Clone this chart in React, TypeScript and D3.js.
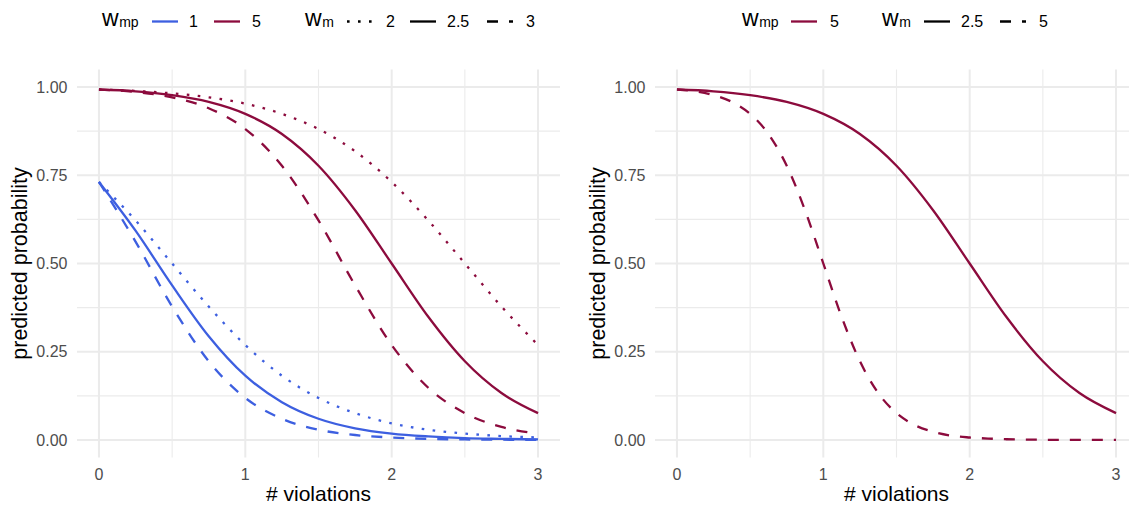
import React from 'react';
import * as d3 from 'd3';

// x positions (# violations) at which the curves were read
const violations = [0, 0.25, 0.5, 0.75, 1, 1.25, 1.5, 1.75, 2, 2.25, 2.5, 2.75, 3];
const violationsFine = [
  0, 0.125, 0.25, 0.375, 0.5, 0.625, 0.75, 0.875, 1, 1.125, 1.25, 1.375, 1.5,
  1.625, 1.75, 1.875, 2, 2.125, 2.25, 2.375, 2.5, 2.625, 2.75, 2.875, 3,
];

// predicted probability, w_mp = 5
const mp5_m2 = [0.993, 0.989, 0.982, 0.971, 0.953, 0.924, 0.881, 0.818, 0.731, 0.622, 0.5, 0.378, 0.269];
const mp5_m25 = [0.993, 0.988, 0.977, 0.958, 0.924, 0.867, 0.777, 0.651, 0.5, 0.349, 0.223, 0.133, 0.076];
const mp5_m3 = [0.993, 0.986, 0.971, 0.94, 0.881, 0.777, 0.622, 0.438, 0.269, 0.148, 0.076, 0.037, 0.018];
const mp5_m5 = [
  0.993, 0.988, 0.977, 0.958, 0.924, 0.867, 0.777, 0.651, 0.5, 0.349, 0.223, 0.133, 0.076,
  0.042, 0.023, 0.012, 0.007, 0.004, 0.002, 0.001, 0.0006, 0.0003, 0.0002, 0.0001, 0.0,
];

// predicted probability, w_mp = 1
const mp1_m2 = [0.731, 0.622, 0.5, 0.378, 0.269, 0.182, 0.119, 0.076, 0.047, 0.029, 0.018, 0.011, 0.007];
const mp1_m25 = [0.731, 0.593, 0.438, 0.294, 0.182, 0.107, 0.06, 0.033, 0.018, 0.01, 0.005, 0.003, 0.0015];
const mp1_m3 = [0.731, 0.562, 0.378, 0.223, 0.119, 0.06, 0.029, 0.014, 0.007, 0.003, 0.0015, 0.0007, 0.0003];

const xTicks = [0, 1, 2, 3];
const xMinor = [0.5, 1.5, 2.5];
const yTicks = [0, 0.25, 0.5, 0.75, 1];
const yMinor = [0.125, 0.375, 0.625, 0.875];

const colors: Record<string, string> = { '1': '#3d5fe0', '5': '#8c0b3d' };
const dashes: Record<string, string> = { '2': '2.6 8.4', '2.5': 'none', '3': '11 11', '5': '11 11' };

type Series = { wmp: string; wm: string; xs: number[]; ys: number[] };

const leftSeries: Series[] = [
  { wmp: '5', wm: '2', xs: violations, ys: mp5_m2 },
  { wmp: '5', wm: '2.5', xs: violations, ys: mp5_m25 },
  { wmp: '5', wm: '3', xs: violations, ys: mp5_m3 },
  { wmp: '1', wm: '2', xs: violations, ys: mp1_m2 },
  { wmp: '1', wm: '2.5', xs: violations, ys: mp1_m25 },
  { wmp: '1', wm: '3', xs: violations, ys: mp1_m3 },
];

const rightSeries: Series[] = [
  { wmp: '5', wm: '2.5', xs: violations, ys: mp5_m25 },
  { wmp: '5', wm: '5', xs: violationsFine, ys: mp5_m5 },
];

const FONT = '"Liberation Sans", Arial, Helvetica, sans-serif';
const W = 1129;
const H = 506;

const Panel: React.FC<{ left: number; series: Series[] }> = ({ left, series }) => {
  // plot area left edge (x = -0.15) and right edge (x = 3.15)
  const x = d3.scaleLinear().domain([-0.15, 3.15]).range([left, left + 483]);
  const y = d3.scaleLinear().domain([-0.05, 1.05]).range([457.6, 69.4]);
  const line = d3
    .line<[number, number]>()
    .x(d => x(d[0]))
    .y(d => y(d[1]))
    .curve(d3.curveMonotoneX);
  const [x0, x1] = x.range();
  const [y0, y1] = y.range();

  return (
    <g>
      {/* grid */}
      {yMinor.map(v => (
        <line key={'ym' + v} x1={x0} x2={x1} y1={y(v)} y2={y(v)} stroke="#ebebeb" strokeWidth={1.1} />
      ))}
      {xMinor.map(v => (
        <line key={'xm' + v} x1={x(v)} x2={x(v)} y1={y0} y2={y1} stroke="#ebebeb" strokeWidth={1.1} />
      ))}
      {yTicks.map(v => (
        <line key={'yM' + v} x1={x0} x2={x1} y1={y(v)} y2={y(v)} stroke="#ebebeb" strokeWidth={2} />
      ))}
      {xTicks.map(v => (
        <line key={'xM' + v} x1={x(v)} x2={x(v)} y1={y0} y2={y1} stroke="#ebebeb" strokeWidth={2} />
      ))}

      {/* curves */}
      {series.map((s, i) => (
        <path
          key={i}
          d={line(s.xs.map((v, j) => [v, s.ys[j]] as [number, number])) || ''}
          fill="none"
          stroke={colors[s.wmp]}
          strokeWidth={2.3}
          strokeDasharray={dashes[s.wm]}
        />
      ))}

      {/* tick labels */}
      {xTicks.map(v => (
        <text key={'xt' + v} x={x(v)} y={480} textAnchor="middle" fontSize={16} fill="#4d4d4d">
          {v}
        </text>
      ))}
      {yTicks.map(v => (
        <text key={'yt' + v} x={left - 9.5} y={y(v)} dy="0.36em" textAnchor="end" fontSize={16} fill="#4d4d4d">
          {v.toFixed(2)}
        </text>
      ))}

      {/* axis titles */}
      <text x={x(1.5)} y={501} textAnchor="middle" fontSize={21} fill="#000">
        # violations
      </text>
      <text
        transform={`translate(${left - 50},${(y0 + y1) / 2}) rotate(-90)`}
        textAnchor="middle"
        fontSize={21.5}
        fill="#000"
      >
        predicted probability
      </text>
    </g>
  );
};

const KeyLine: React.FC<{ x: number; color: string; dash: string }> = ({ x, color, dash }) => (
  <line x1={x} x2={x + 26} y1={21.5} y2={21.5} stroke={color} strokeWidth={2.3} strokeDasharray={dash} />
);

const Title: React.FC<{ x: number; sub: string }> = ({ x, sub }) => (
  <text x={x} y={25.5} fontSize={23} fill="#000">
    w
    <tspan fontSize={14} dx={0.5} dy={1}>
      {sub}
    </tspan>
  </text>
);

const Label: React.FC<{ x: number; children: React.ReactNode }> = ({ x, children }) => (
  <text x={x} y={27} fontSize={16} fill="#000">
    {children}
  </text>
);

const App: React.FC = () => {
  return (
    <div style={{ position: 'absolute', left: 0, top: 0 }}>
      <svg width={W} height={H} style={{ display: 'block', background: '#fff', fontFamily: FONT }}>
        <Panel left={77} series={leftSeries} />
        <Panel left={655} series={rightSeries} />

        {/* left legend */}
        <Title x={102} sub="mp" />
        <KeyLine x={152} color={colors['1']} dash="none" />
        <Label x={189}>1</Label>
        <KeyLine x={214} color={colors['5']} dash="none" />
        <Label x={252}>5</Label>
        <Title x={305} sub="m" />
        <KeyLine x={347} color="#000" dash={dashes['2']} />
        <Label x={386}>2</Label>
        <KeyLine x={410} color="#000" dash="none" />
        <Label x={447}>2.5</Label>
        <KeyLine x={487} color="#000" dash={dashes['3']} />
        <Label x={526}>3</Label>

        {/* right legend */}
        <Title x={742} sub="mp" />
        <KeyLine x={791} color={colors['5']} dash="none" />
        <Label x={830}>5</Label>
        <Title x={882} sub="m" />
        <KeyLine x={924} color="#000" dash="none" />
        <Label x={961}>2.5</Label>
        <KeyLine x={1000} color="#000" dash={dashes['5']} />
        <Label x={1039}>5</Label>
      </svg>
    </div>
  );
};

export default App;
